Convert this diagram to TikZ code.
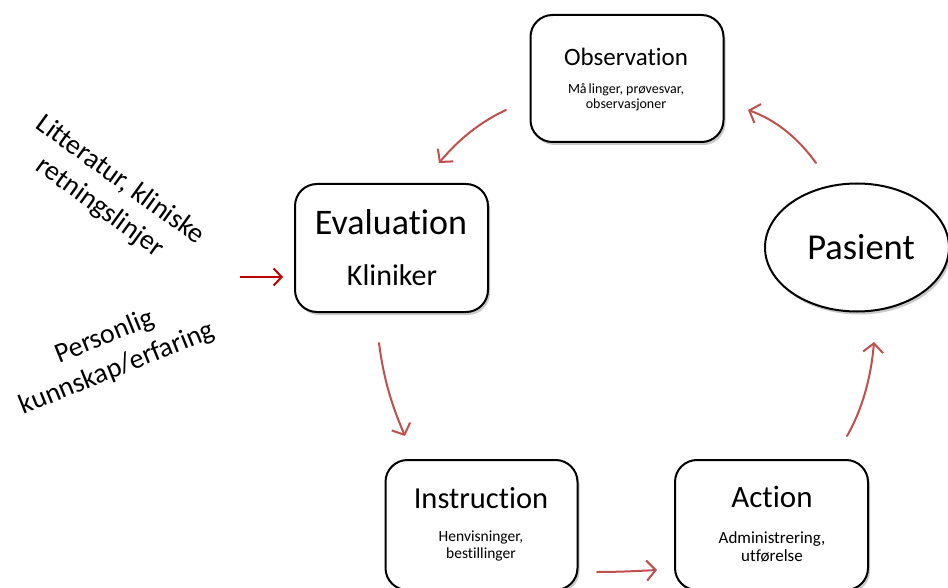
\documentclass[tikz,border=0pt]{standalone}
\usepackage{fontspec}
\setmainfont{Carlito}[Ligatures=NoCommon, RawFeature=-liga]
\usetikzlibrary{arrows.meta,shadows,shapes.geometric}
\definecolor{flowred}{HTML}{C0504D}
\definecolor{inred}{HTML}{C00000}
\tikzset{
  stage/.style={draw=black, line width=2pt, rounded corners=22pt, fill=white,
    minimum width=193pt, minimum height=127pt,
    drop shadow={shadow xshift=2pt, shadow yshift=-3pt, opacity=0.35, fill=black!60}},
  patient/.style={draw=black, line width=2pt, ellipse, fill=white,
    minimum width=184pt, minimum height=128pt,
    drop shadow={shadow xshift=2pt, shadow yshift=-3pt, opacity=0.35, fill=black!60}},
  title/.style={font=\fontsize{25}{29}\selectfont, inner sep=0pt},
  sub/.style={font=\fontsize{15.5}{17}\selectfont, align=center, inner sep=0pt},
  tiny/.style={font=\fontsize{14}{14.5}\selectfont, align=center, inner sep=0pt},
  flow/.style={draw=flowred, line width=2pt, line cap=round,
    -{Straight Barb[length=9pt,width=20pt,line width=2pt]}},
  inflow/.style={draw=inred, line width=2pt,
    -{Straight Barb[length=8pt,width=17pt,line width=2pt]}},
  side/.style={font=\fontsize{28}{34}\selectfont, align=center, inner sep=0pt}
}
\begin{document}
\begin{tikzpicture}[x=1pt, y=-1pt]
\useasboundingbox (0,0) rectangle (948,588);

% stages of the loop
\node[stage] (obs) at (627,78.5) {};
\node[stage, minimum height=128pt] (eval) at (391.5,248) {};
\node[stage, minimum height=130pt, minimum width=192pt] (instr) at (481.5,525) {};
\node[stage, minimum height=130pt] (act) at (771.5,525) {};
\node[patient] (pas) at (857,247.5) {};

% labels
\node[title] (obsT) at (626,57) {Observation};
\node[tiny] (obsS) at (626,97) {Må\hspace{2pt}linger, prøvesvar,\\observasjoner};
\node[title, font=\fontsize{36}{40}\selectfont] (evalT) at (391,222) {Evaluation};
\node[title, font=\fontsize{30}{33}\selectfont] (evalS) at (392,275) {Kliniker};
\node[title, font=\fontsize{30.5}{33}\selectfont] (instrT) at (481,498) {Instruction};
\node[sub] (instrS) at (481,546) {Henvisninger,\\bestillinger};
\node[title, font=\fontsize{31}{34}\selectfont] (actT) at (772,497) {Action};
\node[sub, font=\fontsize{17}{18}\selectfont] (actS) at (772,547) {Administrering,\\utførelse};
\node[title, font=\fontsize{36.5}{40}\selectfont] (pasT) at (861,247) {Pasient};

% knowledge sources
\node[side, rotate=-36] (lit) at (110,194) {Litteratur, kliniske\\retningslinjer};
\node[side, rotate=22] (pers) at (111,353) {Personlig\\kunnskap/erfaring};

% arrow end points
\coordinate (o1) at (506,110);
\coordinate (o2) at (439,163);
\coordinate (e1) at (379,343);
\coordinate (e2) at (405,436);
\coordinate (i1) at (597,572);
\coordinate (i2) at (657,570);
\coordinate (a1) at (847,436);
\coordinate (a2) at (874,342);
\coordinate (p1) at (816,163);
\coordinate (p2) at (748,110);
\coordinate (k1) at (240,277);
\coordinate (k2) at (283,277);

% cycle arrows
\draw[flow] (o1) .. controls (480,122) and (458,140) .. (o2);
\draw[flow] (e1) .. controls (384,382) and (393,408) .. (e2);
\draw[flow] (i1) .. controls (618,572) and (638,571) .. (i2);
\draw[flow] (a1) .. controls (862,410) and (871,378) .. (a2);
\draw[flow] (p1) .. controls (798,138) and (776,120) .. (p2);
\draw[inflow] (k1) -- (k2);
\end{tikzpicture}
\end{document}
